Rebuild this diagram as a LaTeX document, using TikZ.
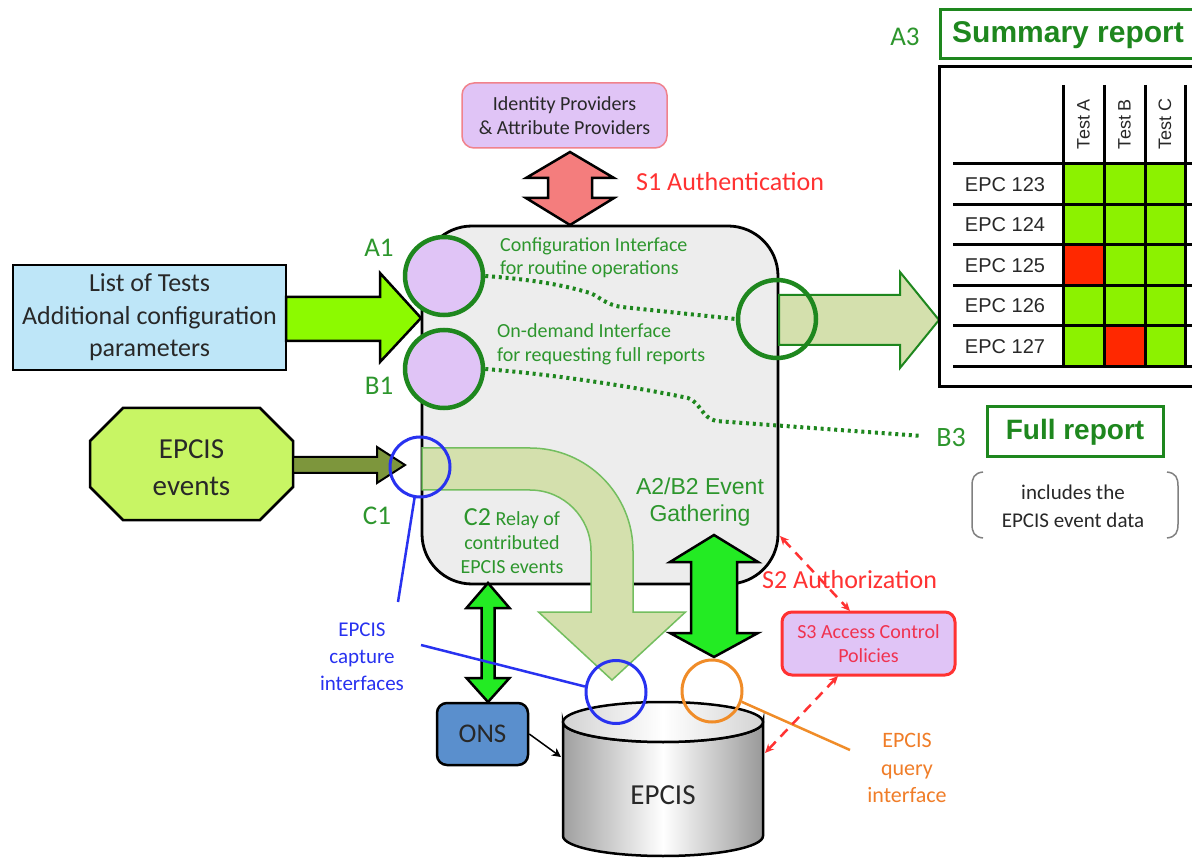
\documentclass[tikz,border=0pt]{standalone}
\usepackage{fontspec}
\setmainfont{Carlito}
\newfontfamily\arialf{Liberation Sans}
\usetikzlibrary{shapes.geometric,arrows.meta,calc}
\definecolor{tgreen}{RGB}{45,150,45}
\definecolor{cgreen}{RGB}{30,135,30}
\definecolor{lav}{RGB}{224,196,246}
\definecolor{boxgray}{RGB}{237,237,237}
\definecolor{listblue}{RGB}{190,230,248}
\definecolor{limeg}{RGB}{140,250,0}
\definecolor{evgreen}{RGB}{200,245,100}
\definecolor{oliveg}{RGB}{125,150,60}
\definecolor{paleg}{RGB}{212,224,173}
\definecolor{paleedge}{RGB}{115,190,95}
\definecolor{brightg}{RGB}{35,235,35}
\definecolor{salmon}{RGB}{244,125,125}
\definecolor{rtext}{RGB}{255,50,50}
\definecolor{btext}{RGB}{40,50,240}
\definecolor{orng}{RGB}{240,140,40}
\definecolor{otext}{RGB}{240,125,40}
\definecolor{onsblue}{RGB}{90,143,205}
\definecolor{cellg}{RGB}{140,242,0}
\definecolor{cellr}{RGB}{255,40,0}
\definecolor{pinkedge}{RGB}{240,130,140}
\definecolor{s3text}{RGB}{240,50,80}
\definecolor{dtext}{RGB}{40,40,40}
\newcommand{\fs}[2]{\fontsize{#1}{#2}\selectfont}
\tikzset{
  barrow/.style={draw=black, line width=2.5, line join=miter},
  gcirc/.style={circle, draw=cgreen, line width=4.5, minimum size=78, inner sep=0},
  gdots/.style={cgreen, line width=4, dash pattern=on 3pt off 3.8pt},
  txt/.style={inner sep=0, align=center},
  rdash/.style={rtext, line width=2.5, dash pattern=on 10pt off 7pt,
     {Stealth[length=9pt,width=8pt]}-{Stealth[length=9pt,width=8pt]}},
  tline/.style={line width=3}
}
\begin{document}
\begin{tikzpicture}[x=1pt,y=-1pt]
\useasboundingbox (0,0) rectangle (1192,858);
\fill[white] (0,0) rectangle (1192,858);
\clip (0,0) rectangle (1192,858);

% ---------- main box ----------
\node[draw=black, line width=2.8, fill=boxgray, rounded corners=50,
      minimum width=356, minimum height=358, inner sep=0] (main) at (600,405) {};

% ---------- identity providers ----------
\node[draw=pinkedge, line width=1.5, fill=lav, rounded corners=12, minimum width=205,
      minimum height=65, txt, text=dtext, font=\fs{20}{24}] (idp) at (564.5,115.5)
      {Identity Providers\\\& Attribute Providers};
% S1 double arrow
\draw[barrow, fill=salmon] (570,152) -- (614,178) -- (592,178) -- (592,198) -- (614,198)
   -- (570,225) -- (526,198) -- (548,198) -- (548,178) -- (526,178) -- cycle;
\node[anchor=west, inner sep=0, font=\fs{26}{30}, text=rtext] (s1) at (636,182) {S1 Authentication};

% ---------- list of tests ----------
\node[draw=black, line width=2.5, fill=listblue, minimum width=273, minimum height=105,
      txt, text=dtext, font=\fs{26}{32.5}] (list) at (149.5,317.5)
      {List of Tests\\Additional configuration\\parameters};
\draw[barrow, fill=limeg] (286,297) -- (380,297) -- (380,273) -- (421,318) -- (380,362)
   -- (380,341) -- (286,341) -- cycle;

% ---------- EPCIS events ----------
\draw[line width=2.5, fill=evgreen] (123,408) -- (260,408) -- (293,441) -- (293,487)
   -- (260,520) -- (123,520) -- (90,487) -- (90,441) -- cycle;
\node[txt, text=dtext, font=\fs{29}{37}] (ev) at (191.5,468) {EPCIS\\events};
\draw[barrow, line width=2, fill=oliveg] (293,457) -- (377,457) -- (377,447) -- (405,465)
   -- (377,483) -- (377,473) -- (293,473) -- cycle;

% ---------- output arrow to the summary ----------
\draw[draw=cgreen, line width=2, fill=paleg] (779,295) -- (900,295) -- (900,272) -- (939,320)
   -- (900,368) -- (900,345) -- (779,345) -- cycle;

% ---------- curved relay arrow ----------
\draw[draw=paleedge, line width=1.5, fill=paleg] (422,448) -- (530,448)
   arc[start angle=-90, end angle=0, radius=103] -- (633,612) -- (685.5,612) -- (612,680)
   -- (538.5,612) -- (591,612) -- (591,551) arc[start angle=0, end angle=-90, radius=61]
   -- (422,490) -- cycle;

% ---------- texts inside main box ----------
\node[anchor=west, inner sep=0, align=left, text=tgreen, font=\fs{20}{23.5}] (cfgt) at (500,257.5)
   {Configuration Interface\\for routine operations};
\node[anchor=west, inner sep=0, align=left, text=tgreen, font=\fs{20}{24}] (odt) at (497,344)
   {On-demand Interface\\for requesting full reports};
\node[txt, text=tgreen, font=\fs{20}{24}] (c2t) at (512,541)
   {{\fs{26}{26}C2} Relay of\\contributed\\EPCIS events};
\node[txt, text=tgreen, font=\arialf\fs{23}{27}] (gath) at (700,502) {A2/B2 Event\\Gathering};

% ---------- interface circles ----------
\node[gcirc, fill=lav] (a1) at (444,276) {};
\node[gcirc, fill=lav] (b1) at (444,369) {};
\node[gcirc] (r) at (777,319) {};
\node[circle, draw=btext, line width=3, minimum size=60, inner sep=0] (c1) at (420,467) {};
\node[txt, text=tgreen, font=\fs{27}{30}] (la1) at (379,248) {A1};
\node[txt, text=tgreen, font=\fs{27}{30}] (lb1) at (379,386) {B1};
\node[txt, text=tgreen, font=\fs{27}{30}] (lc1) at (377,516) {C1};

% dotted links
\draw[gdots] (a1.east) .. controls (540,280) and (570,287) .. (590,293)
   .. controls (600,297) and (606,305) .. (622,307) -- (r.west);
\coordinate (b3end) at (922,436);
\draw[gdots] (b1.east) .. controls (560,375) and (640,388) .. (688,398)
   .. controls (700,402) and (702,418) .. (716,421) -- (b3end);

% ---------- full report ----------
\node[txt, text=tgreen, font=\fs{28}{30}] (lb3) at (951,438) {B3};
\node[draw=cgreen, line width=3, minimum width=176, minimum height=50, inner sep=0,
      text=cgreen, font=\arialf\bfseries\fs{28}{32}] (full) at (1075,432) {Full report};
\node[txt, text=dtext, font=\fs{21}{28}] (incl) at (1073,506) {includes the\\EPCIS event data};
\draw[gray, line width=1.5] (983,472) .. controls (974,473) and (972,478) .. (972,486)
   -- (972,524) .. controls (972,532) and (974,537) .. (983,538);
\draw[gray, line width=1.5] (1167,472) .. controls (1176,473) and (1178,478) .. (1178,486)
   -- (1178,524) .. controls (1178,532) and (1176,537) .. (1167,538);

% ---------- summary report ----------
\node[txt, text=tgreen, font=\fs{27}{30}] (la3) at (905,37) {A3};
\draw[cgreen, line width=3] (940,10) rectangle (1215,59);
\node[anchor=west, inner sep=0, text=cgreen, font=\arialf\bfseries\fs{30}{34}] (sum) at (952,35) {Summary report};
\draw[line width=3, fill=white] (939,67) rectangle (1215,387);
\fill[cellg] (1063,164) rectangle (1185,367);
\fill[cellr] (1063,245) rectangle (1104,286);
\fill[cellr] (1104,326) rectangle (1145,367);
\foreach \xx in {1063,1104,1145,1185} \draw[tline] (\xx,85) -- (\xx,367);
\foreach \yy in {164,205,245,286,326,367} \draw[tline] (953,\yy) -- (1215,\yy);
\node[rotate=90, inner sep=0, text=dtext, font=\arialf\fs{18}{20}] (ta) at (1083.5,124) {Test A};
\node[rotate=90, inner sep=0, text=dtext, font=\arialf\fs{18}{20}] (tb) at (1124.5,124) {Test B};
\node[rotate=90, inner sep=0, text=dtext, font=\arialf\fs{18}{20}] (tc) at (1165,124) {Test C};
\node[inner sep=0, text=dtext, font=\arialf\fs{20}{22}] (e1) at (1005,184.5) {EPC 123};
\node[inner sep=0, text=dtext, font=\arialf\fs{20}{22}] (e2) at (1005,225) {EPC 124};
\node[inner sep=0, text=dtext, font=\arialf\fs{20}{22}] (e3) at (1005,265.5) {EPC 125};
\node[inner sep=0, text=dtext, font=\arialf\fs{20}{22}] (e4) at (1005,306) {EPC 126};
\node[inner sep=0, text=dtext, font=\arialf\fs{20}{22}] (e5) at (1005,346.5) {EPC 127};

% ---------- lower part ----------
% ONS double arrow
\draw[barrow, fill=brightg] (488,583) -- (509.5,608) -- (494.5,608) -- (494.5,678) -- (509.5,678)
   -- (488,702) -- (466.5,678) -- (481.5,678) -- (481.5,608) -- (466.5,608) -- cycle;
% A2/B2 double arrow
\draw[barrow, fill=brightg] (714,535) -- (758,562) -- (737,562) -- (737,633) -- (758,633)
   -- (714,657) -- (670,633) -- (691,633) -- (691,562) -- (670,562) -- cycle;

\node[draw=black, line width=2.5, fill=onsblue, rounded corners=10, minimum width=91,
      minimum height=62, inner sep=0, text=dtext, font=\fs{27}{30}] (ons) at (482.5,734) {ONS};

% cylinder
\draw[line width=2.5, left color=gray!75, right color=gray!80, middle color=white]
   (563,722) -- (563,836) arc[start angle=180, end angle=0, x radius=100, y radius=20]
   -- (763,722) arc[start angle=0, end angle=180, x radius=100, y radius=20] -- cycle;
\draw[line width=2.5, left color=gray!35, right color=gray!35, middle color=white]
   (663,722) ellipse [x radius=100, y radius=20];
\node[inner sep=0, text=dtext, font=\fs{29}{30}] (db) at (663,795) {EPCIS};
\coordinate (cylL) at (561,757);
\coordinate (cylR) at (765,753);
\draw[line width=1.5, -{Stealth[length=9pt,width=9pt]}] (ons.east) -- (cylL);

% capture / query circles
\node[ellipse, draw=btext, line width=3, minimum width=60, minimum height=63, inner sep=0] (cap) at (616,692) {};
\node[ellipse, draw=orng, line width=3, minimum width=60, minimum height=62, inner sep=0] (q) at (712,691) {};

\node[txt, text=btext, font=\fs{21}{27}] (capt) at (362,657) {EPCIS\\capture\\interfaces};
\coordinate (bl1) at (398,602);
\coordinate (bl2) at (421,645);
\draw[btext, line width=2.5] (c1.-100) -- (bl1);
\draw[btext, line width=2.5] (bl2) -- (cap.170);

\node[txt, text=otext, font=\fs{22}{27.5}] (qry) at (907,768) {EPCIS\\query\\interface};
\coordinate (ql) at (850,750);
\draw[orng, line width=2.5] (q.-20) -- (ql);

% S2 / S3
\node[anchor=west, inner sep=0, text=rtext, font=\fs{26}{30}] (s2) at (762,580) {S2 Authorization};
\node[draw=rtext, line width=3, fill=lav, rounded corners=10, minimum width=173,
      minimum height=63, txt, text=s3text, font=\fs{20}{24}] (s3) at (868.5,643.5)
      {S3 Access Control\\Policies};
\coordinate (mc) at (780,536);
\coordinate (s3n) at (850,611);
\coordinate (s3s) at (838,676);
\draw[rdash] (mc) -- (s3n);
\draw[rdash] (s3s) -- (cylR);
\end{tikzpicture}
\end{document}
